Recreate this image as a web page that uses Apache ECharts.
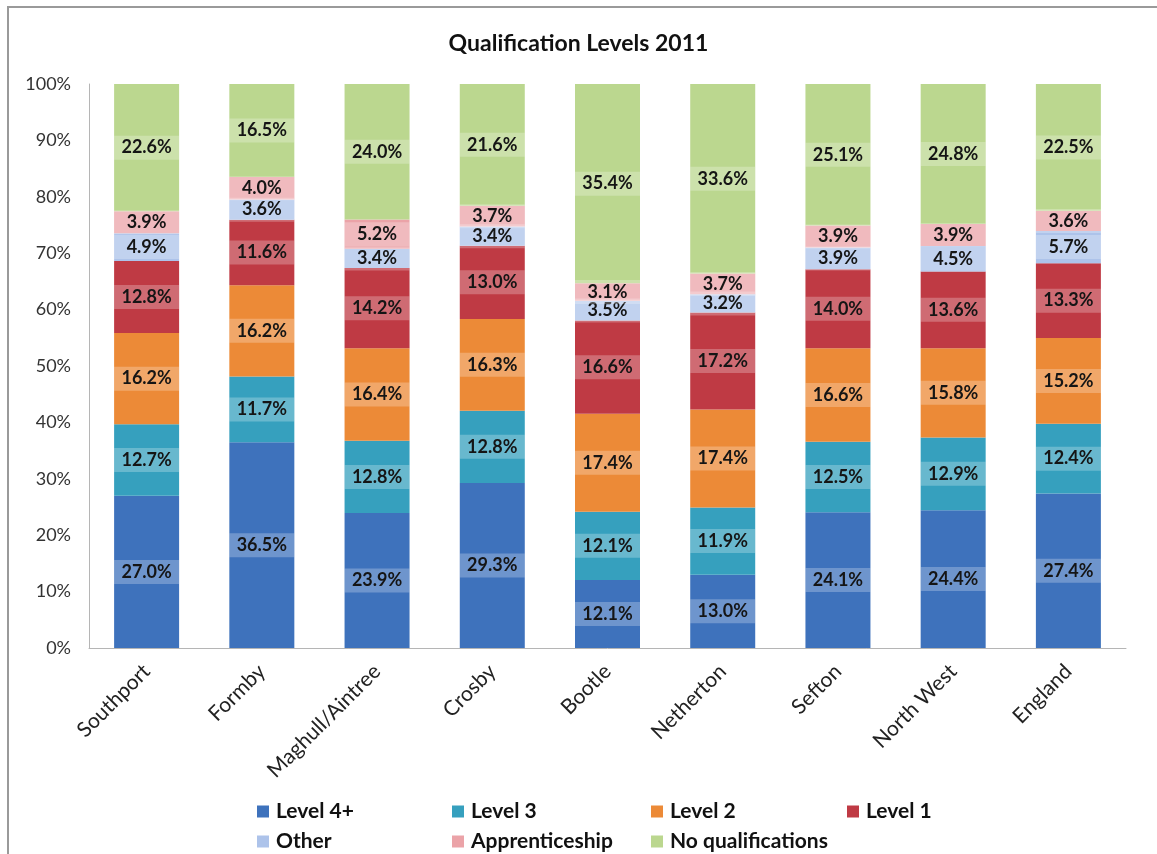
<!DOCTYPE html>
<html>
<head>
<meta charset="utf-8">
<script src="https://cdn.jsdelivr.net/npm/echarts@6/dist/echarts.min.js"></script>
<style>html,body{margin:0;padding:0;background:#fff}#c{width:1157px;height:854px}</style>
</head>
<body>
<div id="c"></div>
<script>
const categories = ['Southport','Formby','Maghull/Aintree','Crosby','Bootle','Netherton','Sefton','North West','England'];
const level4 = [27.0, 36.5, 23.9, 29.3, 12.1, 13.0, 24.1, 24.4, 27.4];
const level3 = [12.7, 11.7, 12.8, 12.8, 12.1, 11.9, 12.5, 12.9, 12.4];
const level2 = [16.2, 16.2, 16.4, 16.3, 17.4, 17.4, 16.6, 15.8, 15.2];
const level1 = [12.8, 11.6, 14.2, 13.0, 16.6, 17.2, 14.0, 13.6, 13.3];
const other = [4.9, 3.6, 3.4, 3.4, 3.5, 3.2, 3.9, 4.5, 5.7];
const apprenticeship = [3.9, 4.0, 5.2, 3.7, 3.1, 3.7, 3.9, 3.9, 3.6];
const noQual = [22.6, 16.5, 24.0, 21.6, 35.4, 33.6, 25.1, 24.8, 22.5];
const yTicks = [0,10,20,30,40,50,60,70,80,90,100];

const seriesDefs = [
  {name:'Level 4+', data: level4, color:'#3E72BC'},
  {name:'Level 3', data: level3, color:'#36A0BE'},
  {name:'Level 2', data: level2, color:'#EC8A37'},
  {name:'Level 1', data: level1, color:'#BF3A44'},
  {name:'Other', data: other, color:'#ADC3EA'},
  {name:'Apprenticeship', data: apprenticeship, color:'#EBA3A8'},
  {name:'No qualifications', data: noQual, color:'#BBD78F'}
];
const totals = categories.map((c,i)=>seriesDefs.reduce((s,d)=>s+d.data[i],0));
const FONT = 'Lato, "Open Sans", sans-serif';
const legendPos = [[257,801],[452,801],[651,801],[847,801],[257,831],[452,831],[651,831]];

const chart = echarts.init(document.getElementById('c'), null, {renderer:'canvas'});
chart.setOption({
  animation:false,
  backgroundColor:'#fff',
  graphic:[{type:'rect', shape:{x:8,y:7,width:1200,height:900}, style:{fill:'none', stroke:'#9a9a9a', lineWidth:2}, silent:true, z:-1}],
  title:{text:'Qualification Levels 2011', left:'center', top:27, textStyle:{fontFamily:FONT, fontSize:23, fontWeight:'bold', color:'#111'}},
  grid:{left:89, right:31, top:84, bottom:206},
  xAxis:{type:'category', data:categories,
    axisLine:{lineStyle:{color:'#b5b5b5'}}, axisTick:{show:false},
    axisLabel:{rotate:45, interval:0, margin:20, fontFamily:FONT, fontSize:21, color:'#222'}},
  yAxis:{type:'value', min:0, max:100, interval:10,
    axisLine:{show:true, lineStyle:{color:'#b5b5b5'}}, axisTick:{show:false}, splitLine:{show:false},
    axisLabel:{margin:18, fontFamily:FONT, fontSize:18, color:'#333', formatter:v=>yTicks.includes(v)?v+'%':''}},
  legend: seriesDefs.map((d,k)=>({data:[d.name], left:legendPos[k][0], top:legendPos[k][1], itemWidth:12, itemHeight:12, icon:'rect', padding:0,
      textStyle:{fontFamily:FONT, fontSize:21, fontWeight:'bold', color:'#111', padding:[0,0,0,2]}})),
  series: seriesDefs.map(d=>({
    name:d.name, type:'bar', stack:'total', barWidth:65,
    itemStyle:{color:d.color},
    data:d.data.map((v,i)=>({value: v/totals[i]*100, raw:v})),
    label:{show:true, position:'inside', fontFamily:FONT, fontSize:18, fontWeight:'bold', color:'#151515',
      backgroundColor:'rgba(255,255,255,0.25)', padding:[3,0], width:65, align:'center',
      formatter:p=>p.data.raw.toFixed(1)+'%'}
  }))
});
</script>
</body>
</html>
